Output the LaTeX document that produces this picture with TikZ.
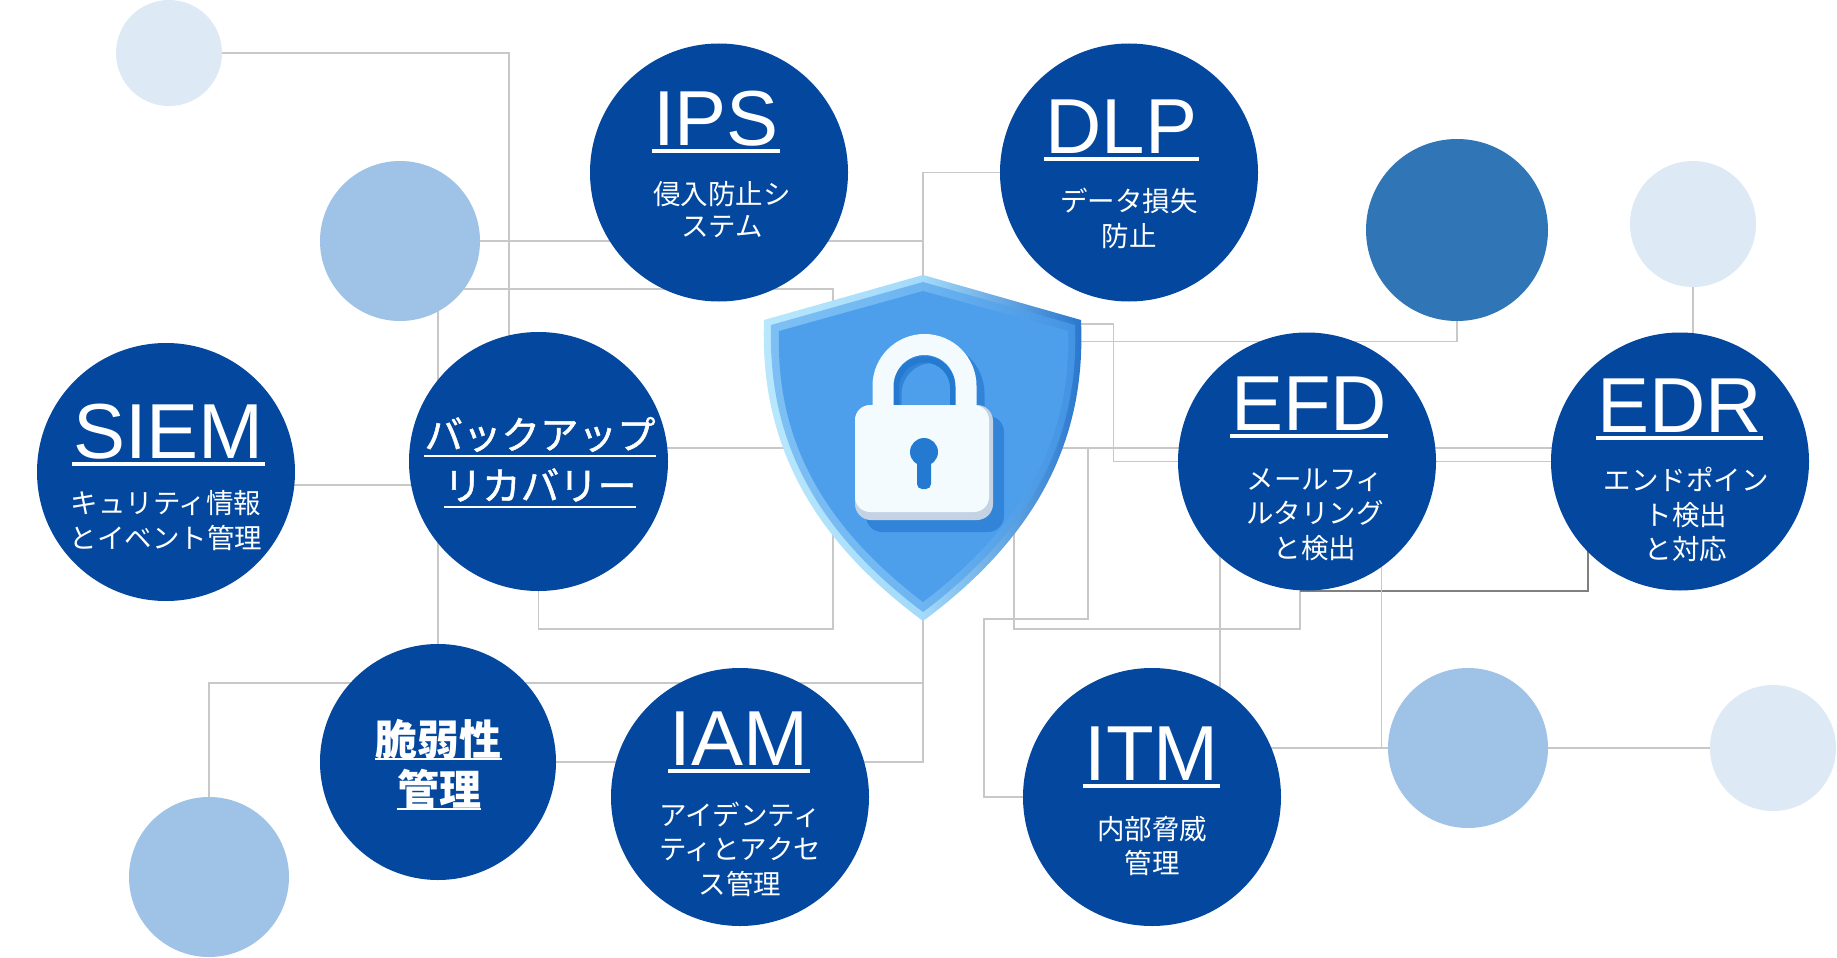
\documentclass[tikz,border=0pt]{standalone}
\usepackage{fontspec}
\setmainfont{Noto Sans CJK JP}
\newfontfamily\latf{Liberation Sans}
\newfontfamily\jpmed[FakeBold=1.3]{Noto Sans CJK JP}
\pgfdeclarelayer{bg}
\pgfsetlayers{bg,main}
\definecolor{navy}{RGB}{3,72,158}
\definecolor{midb}{RGB}{48,117,181}
\definecolor{lightb}{RGB}{159,195,230}
\definecolor{vlightb}{RGB}{221,234,246}
\definecolor{lineg}{RGB}{200,200,200}
\definecolor{lined}{RGB}{128,128,128}
\definecolor{shmain}{RGB}{77,159,236}
\definecolor{shlight}{RGB}{185,232,253}
\definecolor{shdark}{RGB}{38,116,204}
\definecolor{lockw}{RGB}{243,251,255}
\definecolor{lockg}{RGB}{196,210,228}
\definecolor{lockshadow}{RGB}{50,132,216}
\definecolor{keyb}{RGB}{36,122,208}
\begin{document}
\begin{tikzpicture}[x=1pt,y=-1pt,
  bubble/.style={circle, inner sep=0pt, draw=none, minimum size=#1},
  connsty/.style={draw=lineg, line width=1.5pt},
  ttlsty/.style={inner sep=0pt, text=white, anchor=base, font=\latf\fontsize{78}{80}\selectfont},
  substy/.style={inner sep=0pt, text=white, anchor=base, font=\fontsize{27.5}{34}\selectfont},
  bigsty/.style={inner sep=0pt, text=white, anchor=base, font=\jpmed\fontsize{#1}{#1}\selectfont},
  ulsty/.style={draw=white, line width=3.2pt}
]
\useasboundingbox (0,0) rectangle (1837,958);

% ---------- bubbles ----------
\node[bubble=106pt, fill=vlightb] (la) at (169,53) {};
\node[bubble=160pt, fill=lightb] (lb) at (400,241) {};
\node[bubble=182pt, fill=midb] (sd) at (1457,230) {};
\node[bubble=126pt, fill=vlightb] (lc) at (1693,224) {};
\node[bubble=160pt, fill=lightb] (ld) at (209,877) {};
\node[bubble=160pt, fill=lightb] (le) at (1468,748) {};
\node[bubble=126pt, fill=vlightb] (lf) at (1773,748) {};

\node[bubble=258pt, fill=navy] (ips) at (719,172.5) {};
\node[bubble=258pt, fill=navy] (dlp) at (1129,172.5) {};
\node[bubble=258pt, fill=navy] (siem) at (166,472) {};
\node[bubble=259pt, fill=navy] (bak) at (538.5,461.5) {};
\node[bubble=236pt, fill=navy] (vul) at (438,762) {};
\node[bubble=258pt, fill=navy] (iam) at (740,797) {};
\node[bubble=258pt, fill=navy] (efd) at (1307,461.5) {};
\node[bubble=258pt, fill=navy] (edr) at (1680,461.5) {};
\node[bubble=258pt, fill=navy] (itm) at (1152,797) {};

% ---------- junction coordinates ----------
\coordinate (shield) at (923,450);
\coordinate (j1) at (509,53);
\coordinate (j2) at (923,241);
\coordinate (j3a) at (833,289);
\coordinate (j3b) at (833,629);
\coordinate (j5) at (0,485);
\coordinate (j6) at (1088,448);
\coordinate (j7) at (923,683);
\coordinate (j9) at (1113.5,324);
\coordinate (j10) at (1457,341.7);
\coordinate (j11a) at (1088,619);
\coordinate (j11b) at (984,619);
\coordinate (j12a) at (1014,629);
\coordinate (j12b) at (1300,629);
\coordinate (j12c) at (1300,591);
\coordinate (j12d) at (1588,591);
\coordinate (j13) at (1220,0);
\coordinate (j14) at (1381.6,748);

% ---------- connectors ----------
\begin{pgfonlayer}{bg}
\fill[white] (0,0) rectangle (1837,958);
\draw[connsty] (la.center) -- (j1) |- (bak.center);
\draw[connsty] (lb.center) -- (j2);
\draw[connsty] (dlp.center) -| (shield);
\draw[connsty] (j3a -| lb.center) -- (j3a) -- (j3b) -| (bak.center);
\draw[connsty] (vul.center |- lb.center) -- (vul.center);
\draw[connsty] (siem.center |- j5) -- (bak.center |- j5);
\draw[connsty] (bak.center |- j6) -- (edr.center |- j6);
\draw[connsty] (ld.center) |- (j7) -- (shield);
\draw[connsty] (vul.center) -| (j7);
\draw[connsty] (shield |- j9) -- (j9) |- (edr.center);
\draw[connsty] (shield |- j10) -- (j10) -- (sd.center);
\draw[connsty] (j6) -- (j11a) -- (j11b) |- (itm.center);
\draw[connsty] (j12a |- shield) -- (j12a) -- (j12b) -- (j12c);
\draw[connsty, draw=lined] (j12c) -- (j12d) -- (j12d |- edr.center);
\draw[connsty] (j13 |- efd.center) -- (j13 |- itm.center);
\draw[connsty] (j14 |- efd.center) -- (j14);
\draw[connsty] (itm.center |- j14) -- (lf.center);
\draw[connsty] (lc.center) -- (lc.center |- edr.center);
\end{pgfonlayer}

% ---------- shield ----------
\shade[left color=shlight, right color=shdark, middle color=shlight!80!shmain]
  (764,320) .. controls (760,430) and (800,530) .. (923,621)
  .. controls (1046,530) and (1086,430) .. (1081,320) -- (923,275) -- cycle;
\shade[left color=shmain!55!shlight, right color=shmain!70!shdark, middle color=shmain!70!shlight]
  (771,325) .. controls (768,430) and (807,525) .. (923,612)
  .. controls (1039,525) and (1079,430) .. (1075,325) -- (923,282) -- cycle;
\fill[shmain]
  (779,331) .. controls (776,430) and (814,519) .. (923,602)
  .. controls (1032,519) and (1071,430) .. (1068,331) -- (923,291) -- cycle;

% ---------- padlock ----------
\draw[line width=21pt, lockshadow] (891,420) -- (891,394) arc[start angle=180, end angle=0, radius=41.5pt] -- (974,420);
\fill[lockshadow, rounded corners=16pt] (866,416) rectangle (1004,532);
\draw[line width=6pt, keyb] (896,406) -- (896,388) arc[start angle=180, end angle=0, radius=28.5pt] -- (953,406);
\draw[line width=21pt, lockw] (883,412) -- (883,386) arc[start angle=180, end angle=0, radius=41.5pt] -- (966,412);
\fill[lockg, rounded corners=16pt] (855,405) rectangle (993,520);
\fill[lockw, rounded corners=15pt] (855,405) rectangle (989,512);
\fill[keyb] (924,452) circle[radius=14pt];
\fill[keyb, rounded corners=5pt] (917,456) rectangle (931,489);

% ---------- titles ----------
\node[ttlsty] (ipsT) at (716,145) {IPS};
\node[ttlsty] (dlpT) at (1121.5,153) {DLP};
\node[ttlsty] (siemT) at (168.5,458) {SIEM};
\node[ttlsty] (efdT) at (1309,430) {EFD};
\node[ttlsty] (edrT) at (1679.5,432) {EDR};
\node[ttlsty] (iamT) at (739,765) {IAM};
\node[ttlsty] (itmT) at (1151.5,780) {ITM};
\foreach \t in {ipsT,dlpT,siemT,efdT,edrT,iamT,itmT}
  \draw[ulsty] ([xshift=-1pt,yshift=-6pt]\t.base west) -- ([xshift=1pt,yshift=-6pt]\t.base east);

% ---------- subtitles ----------
\node[substy] (ips1) at (722,204.5) {侵入防止シ};
\node[substy] (ips2) at (722,236.5) {ステム};
\node[substy] (dlp1) at (1129,211) {データ損失};
\node[substy] (dlp2) at (1129,246) {防止};
\node[substy] (siem1) at (166,513) {キュリティ情報};
\node[substy] (siem2) at (166,548) {とイベント管理};
\node[substy] (iam1) at (740,825) {アイデンティ};
\node[substy] (iam2) at (740,859.5) {ティとアクセ};
\node[substy] (iam3) at (740,894) {ス管理};
\node[substy] (efd1) at (1315,489) {メールフィ};
\node[substy] (efd2) at (1315,523.5) {ルタリング};
\node[substy] (efd3) at (1315,558) {と検出};
\node[substy] (edr1) at (1686,490) {エンドポイン};
\node[substy] (edr2) at (1686,525) {ト検出};
\node[substy] (edr3) at (1686,559.5) {と対応};
\node[substy] (itm1) at (1152,839) {内部脅威};
\node[substy] (itm2) at (1152,873) {管理};

% ---------- backup & vulnerability ----------
\node[bigsty=38.5] (bak1) at (540,449) {バックアップ};
\node[bigsty=38.5] (bak2) at (540,500) {リカバリー};
\draw[ulsty, line width=2.8pt] ([yshift=-7pt]bak1.base west) -- ([yshift=-7pt]bak1.base east);
\draw[ulsty, line width=2.8pt] ([yshift=-7pt]bak2.base west) -- ([yshift=-7pt]bak2.base east);
\node[bigsty=42, font=\bfseries\fontsize{42}{42}\selectfont] (vul1) at (438.5,755) {脆弱性};
\node[bigsty=42, font=\bfseries\fontsize{42}{42}\selectfont] (vul2) at (439,805) {管理};
\draw[ulsty, line width=2.8pt] ([yshift=-4pt]vul1.base west) -- ([yshift=-4pt]vul1.base east);
\draw[ulsty, line width=2.8pt] ([yshift=-4pt]vul2.base west) -- ([yshift=-4pt]vul2.base east);
\end{tikzpicture}
\end{document}
